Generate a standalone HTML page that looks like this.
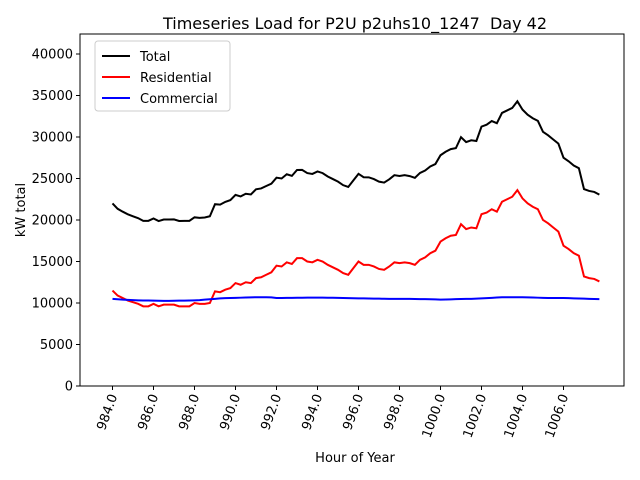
<!DOCTYPE html>
<html><head><meta charset="utf-8"><style>body{margin:0;background:#fff}svg{display:block;font-family:"DejaVu Sans","Liberation Sans",sans-serif}</style></head>
<body>
<svg id="chart" width="640" height="480">
<rect x="0" y="0" width="640" height="480" fill="#fff"/>
<text x="355" y="29" font-size="16" text-anchor="middle" style="white-space:pre" xml:space="preserve">Timeseries Load for P2U p2uhs10_1247  Day 42</text>
<g id="grid"></g>
<g id="series"></g>
<rect x="80" y="34" width="544" height="352" fill="none" stroke="#000" stroke-width="1"/>
<text x="355" y="462" font-size="13" text-anchor="middle">Hour of Year</text>
<text transform="translate(25,210) rotate(-90)" font-size="13" text-anchor="middle">kW total</text>
<g>
<rect x="95" y="41" width="135" height="70" rx="3" fill="#fff" stroke="#ccc"/>
<line x1="102" y1="56" x2="130" y2="56" stroke="#000" stroke-width="2"/>
<text x="140" y="61" font-size="13">Total</text>
<line x1="102" y1="77" x2="130" y2="77" stroke="#f00" stroke-width="2"/>
<text x="140" y="82" font-size="13">Residential</text>
<line x1="102" y1="98" x2="130" y2="98" stroke="#00f" stroke-width="2"/>
<text x="140" y="103" font-size="13">Commercial</text>
</g>
</svg>
<script>
const startHour = 984;
const stepHour = 0.25;
const residential = [11500,10900,10600,10300,10100,9900,9600,9600,9900,9600,9800,9800,9800,9600,9600,9600,10000,9900,9900,10000,11400,11300,11600,11800,12400,12200,12500,12400,13000,13100,13400,13700,14500,14400,14900,14700,15400,15400,15000,14900,15200,15000,14600,14300,14000,13600,13400,14200,15000,14600,14600,14400,14100,14000,14400,14900,14800,14900,14800,14600,15200,15500,16000,16300,17400,17800,18100,18200,19500,18900,19100,19000,20700,20900,21300,21000,22200,22500,22800,23600,22600,22000,21600,21300,20000,19600,19100,18600,16900,16500,16000,15700,13200,13000,12900,12600];
const commercial = [10500,10450,10400,10380,10350,10320,10300,10300,10280,10270,10260,10260,10270,10280,10290,10300,10320,10350,10400,10450,10500,10550,10580,10600,10620,10640,10660,10680,10700,10700,10700,10680,10600,10600,10610,10620,10630,10640,10650,10650,10650,10650,10640,10630,10620,10600,10580,10570,10560,10550,10540,10530,10520,10510,10500,10500,10500,10500,10490,10480,10470,10460,10450,10440,10400,10420,10440,10460,10480,10490,10500,10520,10550,10580,10620,10660,10700,10700,10700,10700,10700,10680,10660,10640,10620,10600,10600,10600,10600,10580,10560,10540,10520,10500,10480,10460];
const xTicks = [984,986,988,990,992,994,996,998,1000,1002,1004,1006];
const yTicks = [0,5000,10000,15000,20000,25000,30000,35000,40000];
const total = residential.map((r,i)=>r+commercial[i]);
function X(h){return 112.5+(h-984)*20.5;}
function Y(v){return 386-v*0.0083;}
const NS="http://www.w3.org/2000/svg";
const grid=document.getElementById('grid');
xTicks.forEach(t=>{
  const l=document.createElementNS(NS,'line');
  l.setAttribute('x1',X(t));l.setAttribute('x2',X(t));l.setAttribute('y1',386);l.setAttribute('y2',390);l.setAttribute('stroke','#000');
  
  
  grid.appendChild(l);
  const tx=document.createElementNS(NS,'text');
  tx.setAttribute('transform',`translate(${X(t)+5},396) rotate(-70)`);
  tx.setAttribute('text-anchor','end');tx.setAttribute('font-size','13');
  tx.textContent=t.toFixed(1);
  
  
  grid.appendChild(tx);
});
yTicks.forEach(t=>{
  const l=document.createElementNS(NS,'line');
  l.setAttribute('x1',76);l.setAttribute('x2',80);l.setAttribute('y1',Y(t));l.setAttribute('y2',Y(t));l.setAttribute('stroke','#000');
  
  
  grid.appendChild(l);
  const tx=document.createElementNS(NS,'text');
  tx.setAttribute('x',73);tx.setAttribute('y',Y(t)+4.5);
  tx.setAttribute('text-anchor','end');tx.setAttribute('font-size','13');
  tx.textContent=t;
  
  
  grid.appendChild(tx);
});
const ser=document.getElementById('series');
function draw(arr,color,name){
  const p=document.createElementNS(NS,'polyline');
  p.setAttribute('points',arr.map((v,i)=>X(startHour+i*stepHour)+','+Y(v)).join(' '));
  p.setAttribute('fill','none');p.setAttribute('stroke',color);p.setAttribute('stroke-width','2');
  
  
  ser.appendChild(p);
}
draw(total,'#000','total-line');
draw(residential,'#f00','residential-line');
draw(commercial,'#00f','commercial-line');
</script>
</body></html>
